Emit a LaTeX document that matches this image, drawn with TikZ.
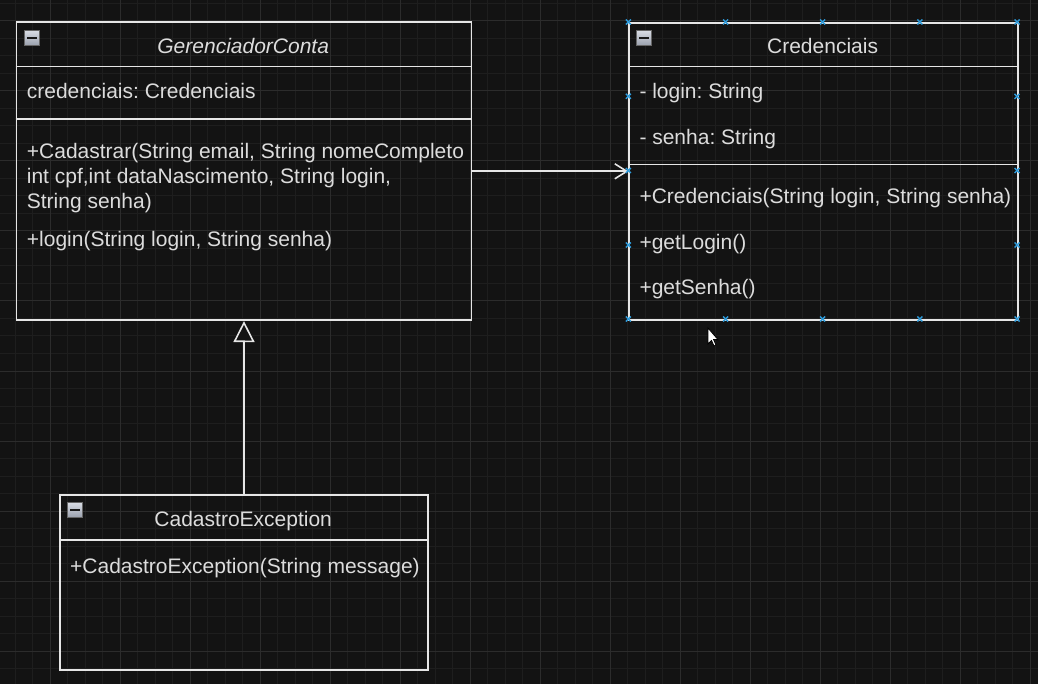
\documentclass[tikz,border=0pt]{standalone}
\usepackage{fontspec}
\setmainfont{Liberation Sans}
\usetikzlibrary{arrows.meta,calc}
\definecolor{bgc}{HTML}{131313}
\definecolor{gridminor}{HTML}{1E1E1E}
\definecolor{gridmajor}{HTML}{2C2C2C}
\definecolor{linec}{HTML}{E6E6E6}
\definecolor{textc}{HTML}{DCDCDC}
\definecolor{handlec}{HTML}{2E9BDB}
\definecolor{icontop}{HTML}{D8DCE4}
\definecolor{iconbot}{HTML}{9AA0AD}
\frenchspacing
\begin{document}
\begin{tikzpicture}[x=1pt,y=-1pt,
  minorg/.style={draw=gridminor, line width=1pt},
  majorg/.style={draw=gridmajor, line width=1pt},
  umlbox/.style={draw=linec, line width=1.6pt, inner sep=0pt, anchor=north west},
  sepline/.style={draw=linec, line width=1.6pt},
  txt/.style={text=textc, inner sep=0pt, font=\fontsize{21}{25}\selectfont},
  member/.style={txt, anchor=base west},
  title/.style={txt, anchor=base},
  iconbox/.style={draw=black!60, line width=0.8pt, top color=icontop, bottom color=iconbot, minimum size=15pt, inner sep=0pt},
  iconbar/.style={draw=black!90, line width=2.4pt},
  assoc/.style={draw=linec, line width=1.6pt, -{Straight Barb[length=12pt,width=15pt]}},
  inherit/.style={draw=linec, line width=1.6pt, -{Triangle[length=21pt,width=21pt,fill=bgc]}},
  handle/.style={draw=handlec, line width=1.4pt}
]
\useasboundingbox[fill=bgc] (0,0) rectangle (1038,684);
% grid
\foreach \k in {0,...,58} \draw[minorg] ({15.3+17.5*\k},0) -- ({15.3+17.5*\k},684);
\foreach \k in {0,...,38} \draw[minorg] (0,{3.5+17.5*\k}) -- (1038,{3.5+17.5*\k});
\foreach \k in {0,...,14} \draw[majorg] ({50.3+70*\k},0) -- ({50.3+70*\k},684);
\foreach \k in {0,...,9} \draw[majorg] (0,{21+70*\k}) -- (1038,{21+70*\k});

% GerenciadorConta
\node[umlbox, minimum width=455pt, minimum height=298pt] (gc) at (15.7,21.5) {};
\draw[sepline] (gc.west |- 0,66.5) -- (gc.east |- 0,66.5);
\draw[sepline] (gc.west |- 0,119) -- (gc.east |- 0,119);
\node[iconbox] (gcicon) at (32,38) {};
\draw[iconbar] ([xshift=-5pt]gcicon.center) -- ([xshift=5pt]gcicon.center);
\node[title, font=\fontsize{21}{25}\selectfont\itshape] (gctitle) at (243.2,53.3) {GerenciadorConta};
\node[member] (gcattr) at (26.7,99) {credenciais: Credenciais};
\node[member] (gcm1) at (26.7,158.5) {+Cadastrar(String email, String nomeCompleto};
\node[member] (gcm2) at (26.7,183.5) {int cpf,int dataNascimento, String login,};
\node[member] (gcm3) at (26.7,208.5) {String senha)};
\node[member] (gcm4) at (26.7,246.5) {+login(String login, String senha)};

% Credenciais
\node[umlbox, minimum width=388.7pt, minimum height=297pt] (cred) at (628.3,22) {};
\draw[sepline] (cred.west |- 0,66.5) -- (cred.east |- 0,66.5);
\draw[sepline] (cred.west |- 0,164.5) -- (cred.east |- 0,164.5);
\node[iconbox] (credicon) at (644,38) {};
\draw[iconbar] ([xshift=-5pt]credicon.center) -- ([xshift=5pt]credicon.center);
\node[title] (credtitle) at (822.6,53.3) {Credenciais};
\node[member] (creda1) at (639.3,99) {- login: String};
\node[member] (creda2) at (639.3,144.5) {- senha: String};
\node[member] (credm1) at (639.3,204) {+Credenciais(String login, String senha)};
\node[member] (credm2) at (639.3,249.5) {+getLogin()};
\node[member] (credm3) at (639.3,295) {+getSenha()};

% CadastroException
\node[umlbox, minimum width=367.7pt, minimum height=175pt] (ce) at (59.3,494) {};
\draw[sepline] (ce.west |- 0,540) -- (ce.east |- 0,540);
\node[iconbox] (ceicon) at (75,510) {};
\draw[iconbar] ([xshift=-5pt]ceicon.center) -- ([xshift=5pt]ceicon.center);
\node[title] (cetitle) at (243.2,526) {CadastroException};
\node[member] (cem1) at (70,573) {+CadastroException(String message)};

% connectors
\draw[assoc] (gc.east) -- (cred.west);
\draw[inherit] (ce.north) -- (gc.south);

% connection handles on Credenciais
\foreach \p in {(628.3,22),(725.5,22),(822.7,22),(919.8,22),(1017,22),
                (628.3,319),(725.5,319),(822.7,319),(919.8,319),(1017,319),
                (628.3,96.3),(628.3,170.5),(628.3,245),
                (1017,96.3),(1017,170.5),(1017,245)}
  \draw[handle] \p ++(-2.5,-2.5) -- ++(5,5) ++(-5,0) -- ++(5,-5);

% mouse cursor
\filldraw[fill=white, draw=black, line width=0.8pt, line join=miter]
  (708,328) -- (708,344) -- (711.5,340.5) -- (714,346) -- (716,345)
  -- (713.6,339.6) -- (718,339.6) -- cycle;
\end{tikzpicture}
\end{document}
